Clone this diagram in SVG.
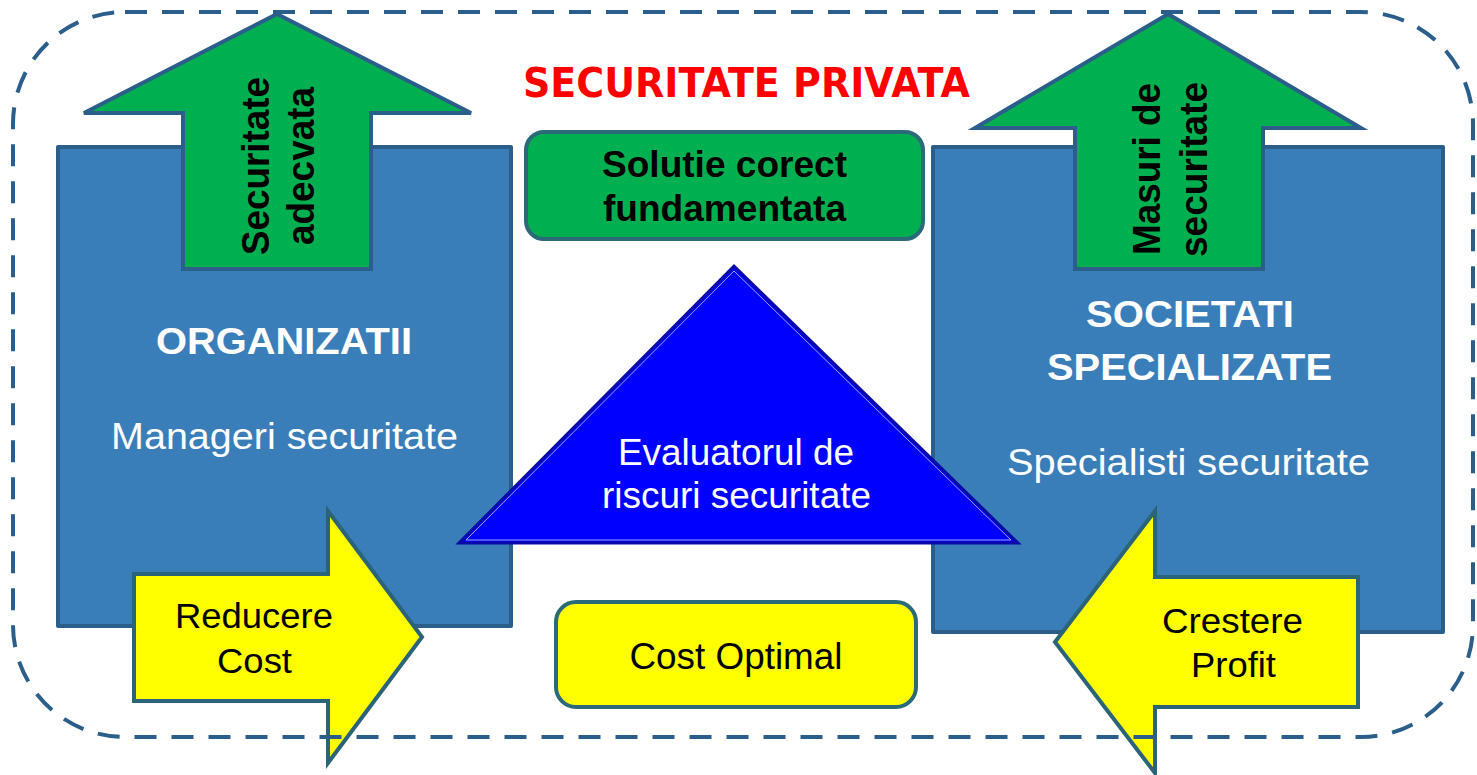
<svg xmlns="http://www.w3.org/2000/svg" width="1477" height="775" viewBox="0 0 1477 775">
<defs>
<style>
.blue{fill:#3A7EB9;stroke:#2B5E8A;stroke-width:4;stroke-linejoin:round}
.garrow{fill:#00B050;stroke:#2B5E8A;stroke-width:4;stroke-linejoin:miter}
.yarrow{fill:#FFFF00;stroke:#2B6478;stroke-width:4;stroke-linejoin:miter}
.gbox{fill:#00B050;stroke:#2B6A78;stroke-width:4}
.ybox{fill:#FFFF00;stroke:#2B6A78;stroke-width:4}
.border{fill:none;stroke:#2B5E8A;stroke-width:4;stroke-dasharray:22 15}
text{font-family:"Liberation Sans",Arial,sans-serif;text-anchor:middle}
.b{font-weight:bold}
.w{fill:#FFFFFF}
.k{fill:#000000}
</style>
</defs>
<rect width="1477" height="775" fill="#FFFFFF"/>

<g id="organizatii">
<rect class="blue" x="58" y="147" width="453" height="479"/>
<text class="b w" x="284" y="354" font-size="37" textLength="256" lengthAdjust="spacingAndGlyphs">ORGANIZATII</text>
<text class="w" x="284.5" y="449" font-size="37" textLength="347" lengthAdjust="spacingAndGlyphs">Manageri securitate</text>
</g>

<g id="societati">
<rect class="blue" x="933" y="147" width="510" height="485"/>
<text class="b w" x="1190" y="327" font-size="37" textLength="208" lengthAdjust="spacingAndGlyphs">SOCIETATI</text>
<text class="b w" x="1189.5" y="380" font-size="37" textLength="285" lengthAdjust="spacingAndGlyphs">SPECIALIZATE</text>
<text class="w" x="1188.5" y="475" font-size="37" textLength="363" lengthAdjust="spacingAndGlyphs">Specialisti securitate</text>
</g>

<g id="securitate-adecvata">
<polygon class="garrow" points="277,14 471,113 371,113 371,269 183,269 183,113 84,113"/>
<text class="b k" transform="translate(269,166) rotate(-90)" x="0" y="0" font-size="39" textLength="178" lengthAdjust="spacingAndGlyphs">Securitate</text>
<text class="b k" transform="translate(314,166) rotate(-90)" x="0" y="0" font-size="39" textLength="158" lengthAdjust="spacingAndGlyphs">adecvata</text>
</g>

<g id="masuri-de-securitate">
<polygon class="garrow" points="1168,14 1361,128 1263,128 1263,269 1075,269 1075,128 975,128"/>
<text class="b k" transform="translate(1160,169) rotate(-90)" x="0" y="0" font-size="39" textLength="172" lengthAdjust="spacingAndGlyphs">Masuri de</text>
<text class="b k" transform="translate(1207,169.5) rotate(-90)" x="0" y="0" font-size="39" textLength="175" lengthAdjust="spacingAndGlyphs">securitate</text>
</g>

<g id="solutie">
<rect class="gbox" x="526" y="132" width="397" height="107" rx="18" ry="18"/>
<text class="b k" x="724.5" y="177" font-size="36" textLength="245" lengthAdjust="spacingAndGlyphs">Solutie corect</text>
<text class="b k" x="724.5" y="221" font-size="36" textLength="243" lengthAdjust="spacingAndGlyphs">fundamentata</text>
</g>

<g id="evaluator">
<polygon points="734,266 1018,543 459,543" fill="#0000FF" stroke="#0A0AA8" stroke-width="3" stroke-linejoin="miter"/>
<polygon points="734,271 1011,540 466,540" fill="none" stroke="#C8C8FF" stroke-width="0.8"/>
<text class="w" x="736" y="465" font-size="36" textLength="236" lengthAdjust="spacingAndGlyphs">Evaluatorul de</text>
<text class="w" x="736.5" y="508" font-size="36" textLength="269" lengthAdjust="spacingAndGlyphs">riscuri securitate</text>
</g>

<g id="reducere-cost">
<polygon class="yarrow" points="134,574 328,574 328,511 422,637 328,763 328,701 134,701" stroke="#2B5E8A"/>
<text class="k" x="254" y="628" font-size="35" textLength="158" lengthAdjust="spacingAndGlyphs">Reducere</text>
<text class="k" x="254.5" y="673" font-size="35" textLength="75" lengthAdjust="spacingAndGlyphs">Cost</text>
</g>

<g id="crestere-profit">
<polygon class="yarrow" points="1358,577 1155,577 1155,511 1055,642 1155,773 1155,707 1358,707"/>
<text class="k" x="1232.5" y="633" font-size="35" textLength="141" lengthAdjust="spacingAndGlyphs">Crestere</text>
<text class="k" x="1233.5" y="677" font-size="35" textLength="85" lengthAdjust="spacingAndGlyphs">Profit</text>
</g>

<g id="cost-optimal">
<rect class="ybox" x="556" y="602" width="360" height="105" rx="20" ry="20"/>
<text class="k" x="736" y="669" font-size="37" textLength="213" lengthAdjust="spacingAndGlyphs">Cost Optimal</text>
</g>

<g id="securitate-privata">
<rect class="border" x="13" y="12" width="1460" height="725" rx="112" ry="112"/>
<text x="746.5" y="97" font-size="40" font-weight="bold" fill="#FF0000" style="font-family:'DejaVu Sans','Liberation Sans',sans-serif" textLength="447" lengthAdjust="spacingAndGlyphs">SECURITATE PRIVATA</text>
</g>

<g id="connectors"></g>
</svg>
